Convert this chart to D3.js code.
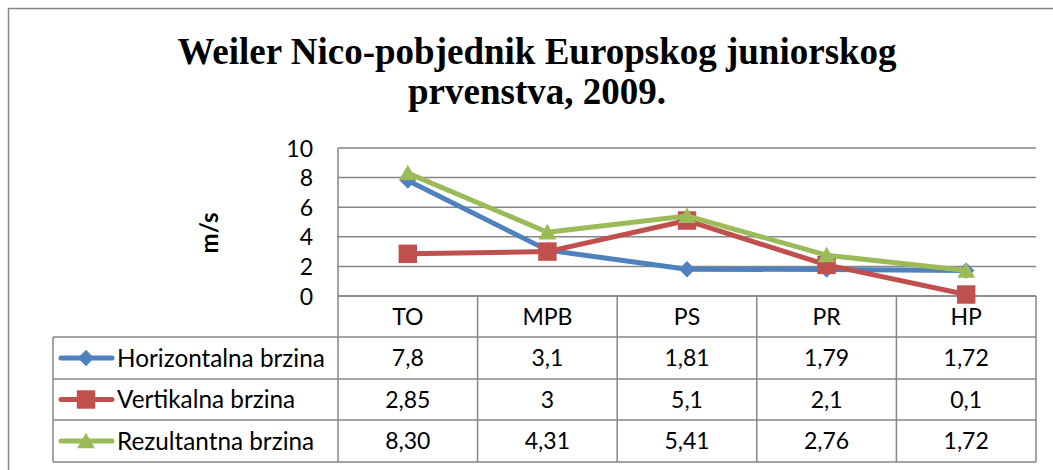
<!DOCTYPE html>
<html><head><meta charset="utf-8">
<script src="https://cdn.jsdelivr.net/npm/d3@7"></script>
<style>html,body{margin:0;padding:0;background:#fff;}svg{display:block;}</style>
</head><body>
<svg id="c" width="1053" height="470"></svg>
<script>
const titleLines = ["Weiler Nico-pobjednik Europskog juniorskog", "prvenstva, 2009."];
const yLabel = "m/s";
const categories = ["TO", "MPB", "PS", "PR", "HP"];
const seriesNames = ["Horizontalna brzina", "Vertikalna brzina", "Rezultantna brzina"];
const horizontal = [7.8, 3.1, 1.81, 1.79, 1.72];
const vertical = [2.85, 3, 5.1, 2.1, 0.1];
const resultant = [8.30, 4.31, 5.41, 2.76, 1.72];
const horizontalLabels = ["7,8", "3,1", "1,81", "1,79", "1,72"];
const verticalLabels = ["2,85", "3", "5,1", "2,1", "0,1"];
const resultantLabels = ["8,30", "4,31", "5,41", "2,76", "1,72"];
const yTicks = [0, 2, 4, 6, 8, 10];

(function () {
const colors = ["#4F81BD", "#C0504D", "#9BBB59"];
const markers = ["diamond", "square", "triangle"];
const series = [
  {name: seriesNames[0], values: horizontal, labels: horizontalLabels},
  {name: seriesNames[1], values: vertical, labels: verticalLabels},
  {name: seriesNames[2], values: resultant, labels: resultantLabels}
];

const svg = d3.select("#c");
const grid = "#868686";
const font = "Lato, 'Open Sans', sans-serif";

// frame
svg.append("path").attr("d", "M8.5,470 L8.5,8.5 L1053,8.5")
  .attr("fill", "none").attr("stroke", grid).attr("stroke-width", 1.5);

// title
svg.append("g").selectAll("text").data(titleLines).join("text")
  .attr("x", 537).attr("y", (d, i) => 63.5 + i * 40.5)
  .attr("text-anchor", "middle")
  .attr("font-family", "'Liberation Serif', 'Times New Roman', serif")
  .attr("font-weight", "bold").attr("font-size", 37).attr("fill", "#000")
  .text(d => d);

const pLeft = 338, pRight = 1036, pTop = 148, pBottom = 296;
const x = d3.scaleBand().domain(categories).range([pLeft, pRight]).padding(0);
const y = d3.scaleLinear().domain([0, 10]).range([pBottom, pTop]);

// gridlines
svg.append("g").selectAll("line").data(yTicks).join("line")
  .attr("x1", pLeft).attr("x2", pRight)
  .attr("y1", d => y(d)).attr("y2", d => y(d))
  .attr("stroke", grid).attr("stroke-width", 1.5);
svg.append("line").attr("x1", pLeft).attr("x2", pLeft).attr("y1", pTop).attr("y2", pBottom)
  .attr("stroke", grid).attr("stroke-width", 1.5);

// y axis
const yAxis = d3.axisLeft(y).tickValues(yTicks).tickSize(0).tickPadding(0).tickFormat(d3.format("d"));
const ya = svg.append("g").attr("transform", "translate(313,0)").call(yAxis);
ya.select(".domain").remove();
ya.selectAll("text").attr("font-family", font).attr("font-size", 23).attr("fill", "#000").attr("dy", "0.35em");

svg.append("text").attr("transform", "translate(218,233) rotate(-90)")
  .attr("text-anchor", "middle").attr("font-family", font).attr("font-weight", "bold")
  .attr("font-size", 24).attr("fill", "#000").text(yLabel);

// table
const rowTop = [296, 337, 379, 420, 462];
const tableLeft = 53;
const tg = svg.append("g").attr("stroke", grid).attr("stroke-width", 1.5);
tg.append("line").attr("x1", pLeft).attr("x2", pRight).attr("y1", rowTop[0]).attr("y2", rowTop[0]);
for (let i = 1; i < rowTop.length; i++) {
  tg.append("line").attr("x1", tableLeft).attr("x2", pRight).attr("y1", rowTop[i]).attr("y2", rowTop[i]);
}
const colEdges = categories.map(c => x(c)).concat([x.range()[1]]);
colEdges.forEach(ex => tg.append("line").attr("x1", ex).attr("x2", ex).attr("y1", rowTop[0]).attr("y2", rowTop[4]));
tg.append("line").attr("x1", tableLeft).attr("x2", tableLeft).attr("y1", rowTop[1]).attr("y2", rowTop[4]);

const cx = c => x(c) + x.bandwidth() / 2;
svg.append("g").selectAll("text").data(categories).join("text")
  .attr("x", d => cx(d)).attr("y", (rowTop[0] + rowTop[1]) / 2).attr("dy", "0.35em")
  .attr("text-anchor", "middle").attr("font-family", font).attr("font-size", 23).attr("fill", "#000")
  .text(d => d);

const sym = {
  diamond: d3.symbol().type(d3.symbolDiamond2).size(170),
  square: d3.symbol().type(d3.symbolSquare).size(340),
  triangle: d3.symbol().type(d3.symbolTriangle2).size(230)
};

series.forEach((s, i) => {
  const ry = (rowTop[i + 1] + rowTop[i + 2]) / 2;
  svg.append("g").selectAll("text").data(s.labels).join("text")
    .attr("x", (d, j) => cx(categories[j])).attr("y", ry).attr("dy", "0.35em")
    .attr("text-anchor", "middle").attr("font-family", font).attr("font-size", 23).attr("fill", "#000")
    .text(d => d);
  const lg = svg.append("g");
  lg.append("line").attr("x1", 61).attr("x2", 112).attr("y1", ry).attr("y2", ry)
    .attr("stroke", colors[i]).attr("stroke-width", 5).attr("stroke-linecap", "round");
  lg.append("path").attr("d", sym[markers[i]]()).attr("transform", `translate(86,${ry + (markers[i] === "triangle" ? 2 : 0)})`)
    .attr("fill", colors[i]);
  lg.append("text").attr("x", 117).attr("y", ry).attr("dy", "0.35em")
    .attr("font-family", font).attr("font-size", 24.3).attr("fill", "#000").text(s.name);
});

const line = d3.line().x((d, j) => cx(categories[j])).y(d => y(d));
series.forEach((s, i) => {
  const g = svg.append("g");
  g.append("path").attr("d", line(s.values)).attr("fill", "none")
    .attr("stroke", colors[i]).attr("stroke-width", 5).attr("stroke-linejoin", "round").attr("stroke-linecap", "round");
  g.selectAll("path.m").data(s.values).join("path").attr("class", "m")
    .attr("d", sym[markers[i]]())
    .attr("transform", (d, j) => `translate(${cx(categories[j])},${y(d) + (markers[i] === "triangle" ? 2 : 0)})`)
    .attr("fill", colors[i]);
});
})();
</script>
</body></html>
